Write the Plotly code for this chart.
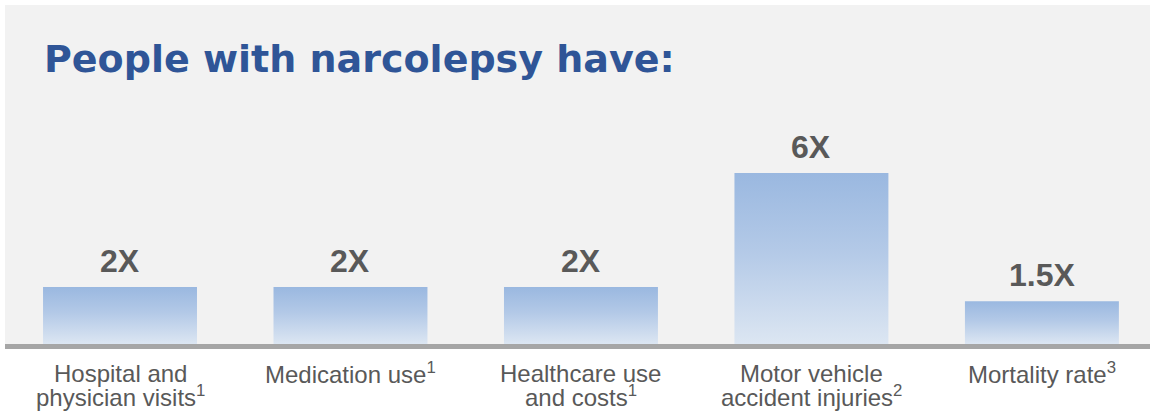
import plotly.graph_objects as go

# Chart data
title_text = "People with narcolepsy have:"
label_line1 = ["Hospital and", "Medication use<sup>1</sup>", "Healthcare use",
               "Motor vehicle", "Mortality rate<sup>3</sup>"]
label_line2 = ["physician visits<sup>1</sup>", "", "and costs<sup>1</sup>",
               "accident injuries<sup>2</sup>", ""]
multipliers = [2, 2, 2, 6, 1.5]

# Styling
BG_GREY = "#f2f2f2"
AXIS_GREY = "#a6a6a6"
TEXT_GREY = "#595959"
TITLE_BLUE = "#2f5597"
BAR_SCALE = [[0.0, "#dce6f2"], [0.55, "#b3c9e7"], [1.0, "#9ab8e0"]]
HALF_WIDTH = 0.334
LABEL_FONT = "Liberation Sans, Arial, sans-serif"

fig = go.Figure()

# Each bar is a filled rectangle so it can carry a vertical gradient
for i, v in enumerate(multipliers):
    xs = [i - HALF_WIDTH, i + HALF_WIDTH, i + HALF_WIDTH, i - HALF_WIDTH, i - HALF_WIDTH]
    ys = [0, 0, v, v, 0]
    fig.add_trace(go.Scatter(
        x=xs, y=ys, mode="lines", fill="toself",
        line=dict(width=0, color="rgba(0,0,0,0)"),
        fillgradient=dict(type="vertical", colorscale=BAR_SCALE, start=0, stop=v),
        hoverinfo="skip", showlegend=False,
    ))

# Value labels above the bars
for i, v in enumerate(multipliers):
    fig.add_annotation(
        x=i, y=v, xref="x", yref="y", text=f"<b>{v:g}X</b>",
        showarrow=False, yanchor="bottom", yshift=6,
        font=dict(family=LABEL_FONT, size=32, color=TEXT_GREY),
    )

# Category labels under the axis (two tight lines each)
for i, (l1, l2) in enumerate(zip(label_line1, label_line2)):
    for text, shift in ((l1, -29), (l2, -51.5)):
        if not text:
            continue
        fig.add_annotation(
            x=i, y=0, xref="x", yref="paper", text=text,
            showarrow=False, yanchor="middle", yshift=shift,
            font=dict(family=LABEL_FONT, size=24, color=TEXT_GREY),
        )

# Heading
fig.add_annotation(
    x=0, y=1, xref="paper", yref="paper", text=f"<b>{title_text}</b>",
    showarrow=False, xanchor="left", yanchor="middle", xshift=37, yshift=-54,
    font=dict(family="DejaVu Sans, sans-serif", size=38, color=TITLE_BLUE),
)

fig.update_layout(
    width=1150, height=418,
    margin=dict(l=5, r=0, t=5, b=74),
    paper_bgcolor="white",
    plot_bgcolor=BG_GREY,
    showlegend=False,
    xaxis=dict(range=[-0.499, 4.469], showgrid=False, zeroline=False,
               showticklabels=False, ticks="", showline=True,
               linecolor=AXIS_GREY, linewidth=4.5, fixedrange=True),
    yaxis=dict(range=[0, 11.89], showgrid=False, zeroline=False,
               showticklabels=False, ticks="", showline=False, fixedrange=True),
)

fig.write_html("out.html", config={"displayModeBar": False})
